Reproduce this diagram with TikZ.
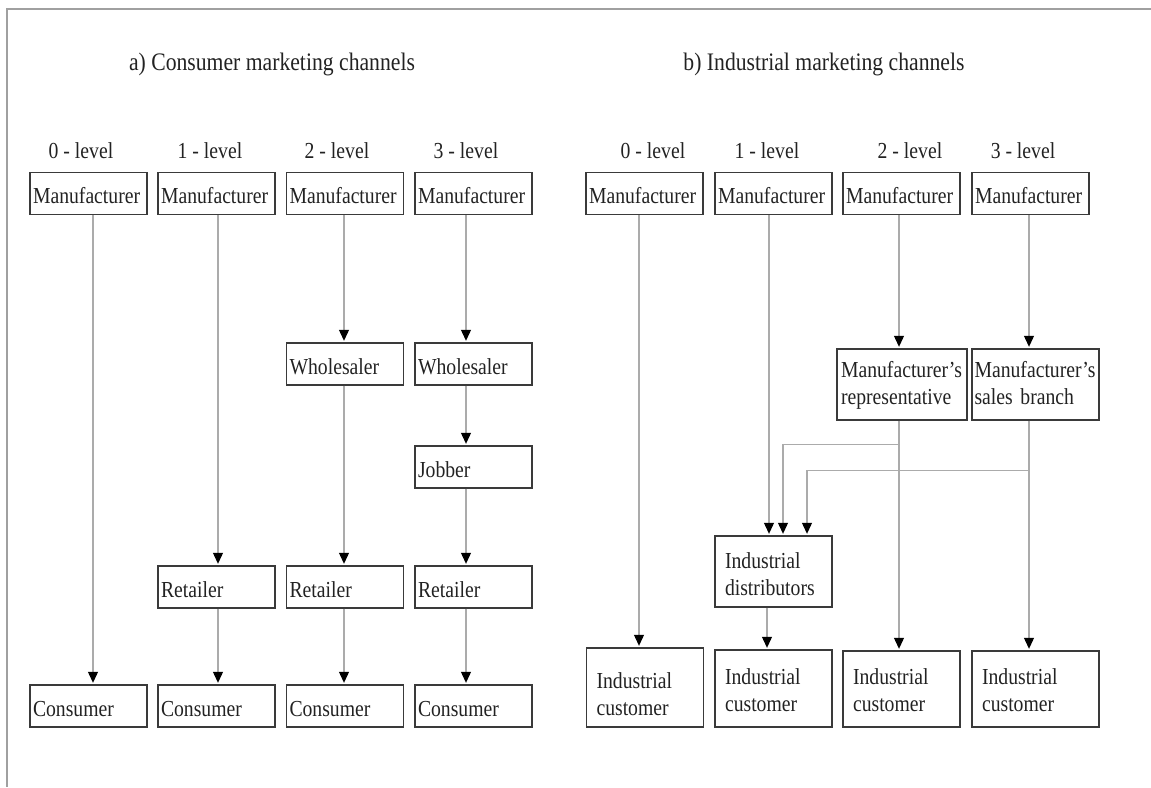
\documentclass[tikz,border=0pt]{standalone}
\usepackage{fontspec}
\setmainfont{Liberation Serif}[FakeStretch=0.86]
\usetikzlibrary{arrows.meta}
\definecolor{boxc}{HTML}{3A3A3A}
\definecolor{linec}{HTML}{ABABAB}
\definecolor{framec}{HTML}{A0A0A0}
\definecolor{textc}{HTML}{222222}
\newcommand{\boxfont}{\fontsize{22.9pt}{27pt}\selectfont}
\newcommand{\ttlfont}{\fontsize{25.2pt}{28pt}\selectfont}
\tikzset{
  every node/.style={text=textc},
  bx/.style={draw=boxc, line width=1.4pt, inner xsep=3pt, inner ysep=0pt,
    align=left, font=\boxfont, text height=20.5pt, text depth=0pt,
    minimum width=117pt, minimum height=42pt, text width=111pt},
  bxtwo/.style={draw=boxc, line width=1.4pt, inner xsep=10pt, inner ysep=0pt,
    align=left, font=\boxfont, minimum width=117pt, text width=97pt, text depth=27pt},
  lvl/.style={anchor=base, font=\boxfont, inner sep=0pt},
  ttl/.style={anchor=base, font=\ttlfont, inner sep=0pt},
  ln/.style={draw=linec, line width=1.1pt},
  arr/.style={ln, shorten >=1.5pt, -{Triangle[length=11pt,width=10pt,color=black]}},
}
\begin{document}
\begin{tikzpicture}[x=1pt,y=-1pt]
\path[use as bounding box] (0,0) rectangle (1151,787);
\draw[framec, line width=1.3pt] (1151,9) -- (7,9) -- (7,787);

% titles
\node[ttl] (ta) at (272,70) {a) Consumer marketing channels};
\node[ttl] (tb) at (824,70) {b) Industrial marketing channels};

% level labels
\node[lvl] (la0) at (81,158) {0 - level};
\node[lvl] (la1) at (210,158) {1 - level};
\node[lvl] (la2) at (337,158) {2 - level};
\node[lvl] (la3) at (466,158) {3 - level};
\node[lvl] (lb0) at (653,158) {0 - level};
\node[lvl] (lb1) at (767,158) {1 - level};
\node[lvl] (lb2) at (910,158) {2 - level};
\node[lvl] (lb3) at (1023,158) {3 - level};

% ---------------- consumer channels
\node[bx] (am1) at (88.5,193.5) {Manufacturer};
\node[bx] (am2) at (216.5,193.5) {Manufacturer};
\node[bx] (am3) at (345,193.5) {Manufacturer};
\node[bx] (am4) at (473.5,193.5) {Manufacturer};

\node[bx] (aw3) at (345,364) {Wholesaler};
\node[bx] (aw4) at (473.5,364) {Wholesaler};
\node[bx] (aj4) at (473.5,467) {Jobber};

\node[bx] (ar2) at (216.5,587) {Retailer};
\node[bx] (ar3) at (345,587) {Retailer};
\node[bx] (ar4) at (473.5,587) {Retailer};

\node[bx] (ac1) at (88.5,706) {Consumer};
\node[bx] (ac2) at (216.5,706) {Consumer};
\node[bx] (ac3) at (345,706) {Consumer};
\node[bx] (ac4) at (473.5,706) {Consumer};

\draw[arr] ([xshift=4.5pt]am1.south) -- ([xshift=4.5pt]ac1.north);
\draw[arr] ([xshift=1.5pt]am2.south) -- ([xshift=1.5pt]ar2.north);
\draw[arr] ([xshift=1.5pt]ar2.south) -- ([xshift=1.5pt]ac2.north);
\draw[arr] ([xshift=-1pt]am3.south) -- ([xshift=-1pt]aw3.north);
\draw[arr] ([xshift=-1pt]aw3.south) -- ([xshift=-1pt]ar3.north);
\draw[arr] ([xshift=-1pt]ar3.south) -- ([xshift=-1pt]ac3.north);
\draw[arr] ([xshift=-7.5pt]am4.south) -- ([xshift=-7.5pt]aw4.north);
\draw[arr] ([xshift=-7.5pt]aw4.south) -- ([xshift=-7.5pt]aj4.north);
\draw[arr] ([xshift=-7.5pt]aj4.south) -- ([xshift=-7.5pt]ar4.north);
\draw[arr] ([xshift=-7.5pt]ar4.south) -- ([xshift=-7.5pt]ac4.north);

% ---------------- industrial channels
\node[bx] (bm1) at (644.5,193.5) {Manufacturer};
\node[bx] (bm2) at (773.5,193.5) {Manufacturer};
\node[bx] (bm3) at (901.5,193.5) {Manufacturer};
\node[bx] (bm4) at (1030.5,193.5) {Manufacturer};

\node[bxtwo, inner xsep=4pt, minimum width=130pt, text width=122pt, minimum height=71pt,
  text height=12pt] (brep) at (902,384.5) {Manufacturer’s\\representative};
\node[bxtwo, inner xsep=2.5pt, minimum width=127pt, text width=122pt, minimum height=71pt,
  text height=12pt] (bsal) at (1035.5,384.5) {Manufacturer’s\\sales branch};

\node[bxtwo, minimum height=71pt, text height=20pt] (bdis) at (773.5,571.5) {Industrial\\distributors};

\node[bxtwo, minimum height=79pt, text height=28pt] (bc1) at (645,687.5) {Industrial\\customer};
\node[bxtwo, minimum height=77pt, text height=18pt] (bc2) at (773.5,688.5) {Industrial\\customer};
\node[bxtwo, minimum height=76pt, text height=17pt] (bc3) at (901.5,689) {Industrial\\customer};
\node[bxtwo, minimum width=127pt, text width=107pt, minimum height=76pt, text height=17pt]
  (bc4) at (1035.5,689) {Industrial\\customer};

\draw[arr] ([xshift=-5.5pt]bm1.south) -- ([xshift=-6pt]bc1.north);
\draw[arr] ([xshift=-4.5pt]bm2.south) -- ([xshift=-4.5pt]bdis.north);
\draw[arr] ([xshift=-6.5pt]bdis.south) -- ([xshift=-6.5pt]bc2.north);
\draw[arr] ([xshift=-2.5pt]bm3.south) -- ([xshift=-3pt]brep.north);
\draw[arr] ([xshift=-3pt]brep.south) -- ([xshift=-2.5pt]bc3.north);
\draw[arr] ([xshift=-1.5pt]bm4.south) -- ([xshift=-6.5pt]bsal.north);
\draw[arr] ([xshift=-6.5pt]bsal.south) -- ([xshift=-6.5pt]bc4.north);
\draw[arr] ([xshift=-3pt,yshift=-24pt]brep.south) -| ([xshift=9.5pt]bdis.north);
\draw[arr] ([xshift=-6.5pt,yshift=-50pt]bsal.south) -| ([xshift=33.5pt]bdis.north);
\end{tikzpicture}
\end{document}
